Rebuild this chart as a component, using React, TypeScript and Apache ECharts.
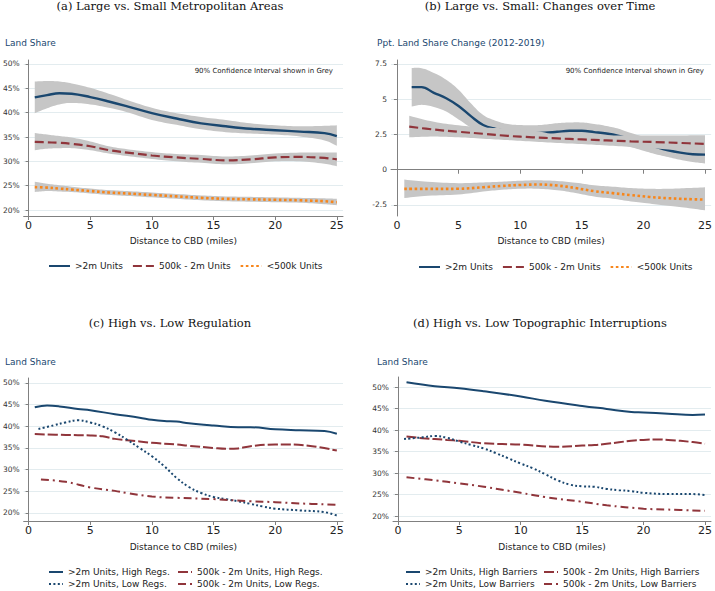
import React, { useEffect, useRef } from "react";
import * as echarts from "echarts";

// ---------- Panel (a): Large vs. Small Metropolitan Areas ----------
const A_X = [0.5, 1.5, 2.5, 3.5, 5, 6.5, 8, 10, 12, 14, 16, 18, 20, 22, 24, 25];
const A_BIG = [43.15, 43.6, 44.0, 43.9, 43.2, 42.3, 41.3, 39.9, 38.8, 37.8, 37.2, 36.7, 36.4, 36.1, 35.8, 35.2];
const A_BIG_LO = [39.9, 40.9, 41.7, 42.0, 41.7, 41.0, 40.1, 38.5, 37.5, 36.6, 36.0, 35.7, 35.5, 35.1, 34.3, 33.2];
const A_BIG_HI = [46.4, 46.5, 46.4, 46.0, 45.1, 43.9, 42.6, 41.0, 39.9, 39.1, 38.5, 37.8, 37.4, 37.2, 37.3, 37.4];
const A_MID = [34.0, 33.9, 33.8, 33.6, 33.1, 32.3, 31.8, 31.2, 30.8, 30.5, 30.2, 30.4, 30.8, 30.9, 30.7, 30.4];
const A_MID_LO = [32.3, 32.6, 32.7, 32.7, 32.3, 31.6, 31.1, 30.5, 30.0, 29.7, 29.4, 29.6, 30.0, 30.0, 29.5, 29.0];
const A_MID_HI = [35.8, 35.5, 35.2, 34.9, 34.1, 33.1, 32.5, 31.9, 31.5, 31.3, 31.0, 31.2, 31.6, 31.8, 31.8, 31.8];
const A_SMALL = [24.7, 24.6, 24.4, 24.2, 23.9, 23.6, 23.4, 23.1, 22.8, 22.5, 22.3, 22.2, 22.1, 22.0, 21.8, 21.6];
const A_SMALL_LO = [23.7, 23.9, 23.8, 23.7, 23.4, 23.1, 22.9, 22.6, 22.3, 22.0, 21.8, 21.7, 21.6, 21.5, 21.2, 21.0];
const A_SMALL_HI = [25.8, 25.4, 25.1, 24.8, 24.4, 24.1, 23.9, 23.6, 23.3, 23.0, 22.8, 22.7, 22.6, 22.5, 22.4, 22.3];

// ---------- Panel (b): Changes over Time ----------
const B_BIG_X = [1.2, 2, 3, 4, 5, 6, 7, 8, 9, 10, 11, 12, 13, 14, 15, 16, 17, 18, 19, 20, 21, 22, 23, 24, 25];
const B_BIG = [5.86, 5.86, 5.45, 5.07, 4.52, 3.8, 3.17, 2.9, 2.75, 2.65, 2.6, 2.62, 2.69, 2.76, 2.76, 2.67, 2.57, 2.4, 2.15, 1.88, 1.62, 1.38, 1.21, 1.1, 1.07];
const B_BIG_LO = [4.48, 4.6, 4.45, 4.12, 3.57, 3.0, 2.6, 2.4, 2.3, 2.25, 2.2, 2.2, 2.2, 2.2, 2.2, 2.1, 2.0, 1.85, 1.6, 1.35, 1.1, 0.9, 0.7, 0.55, 0.45];
const B_BIG_HI = [7.22, 7.2, 6.86, 6.38, 5.67, 4.71, 3.88, 3.48, 3.24, 3.17, 3.15, 3.2, 3.3, 3.35, 3.35, 3.25, 3.1, 2.9, 2.6, 2.35, 2.15, 1.95, 1.8, 1.75, 1.75];
const B_MID_X = [1, 3, 5, 7, 9, 11, 13, 15, 17, 19, 21, 23, 25];
const B_MID = [3.05, 2.85, 2.69, 2.55, 2.4, 2.3, 2.22, 2.15, 2.08, 2.01, 1.96, 1.9, 1.83];
const B_MID_LO = [2.3, 2.35, 2.3, 2.2, 2.1, 2.0, 1.9, 1.82, 1.72, 1.62, 1.5, 1.38, 1.25];
const B_MID_HI = [3.82, 3.4, 3.15, 3.0, 2.92, 2.78, 2.5, 2.45, 2.43, 2.42, 2.42, 2.43, 2.45];
const B_SMALL_X = [0.6, 2.5, 5, 7, 8.5, 10, 11.5, 13, 14.5, 16, 17.5, 19, 20.5, 22, 23.5, 25];
const B_SMALL = [-1.36, -1.36, -1.35, -1.24, -1.15, -1.08, -1.05, -1.12, -1.3, -1.52, -1.66, -1.8, -1.93, -2.02, -2.08, -2.12];
const B_SMALL_LO = [-2.0, -1.85, -1.75, -1.55, -1.42, -1.35, -1.35, -1.45, -1.65, -1.9, -2.05, -2.25, -2.4, -2.55, -2.7, -2.88];
const B_SMALL_HI = [-0.7, -0.85, -0.95, -0.9, -0.85, -0.78, -0.75, -0.8, -0.92, -1.1, -1.2, -1.3, -1.35, -1.35, -1.3, -1.25];

// ---------- Panel (c): High vs. Low Regulation ----------
const C_BIG_HIGH_X = [0.5, 1.5, 2.5, 4, 5, 7, 9, 10, 11, 12, 13, 15, 17, 18, 20, 22, 24, 25];
const C_BIG_HIGH = [44.4, 44.8, 44.6, 44.0, 43.7, 42.8, 42.0, 41.5, 41.2, 41.1, 40.7, 40.2, 39.8, 39.8, 39.3, 39.1, 38.9, 38.3];
const C_BIG_LOW_X = [0.8, 2, 3, 4, 5, 6, 7, 8, 9, 10, 11, 12, 13, 14, 15, 16, 17, 18, 19, 20, 22, 24, 25];
const C_BIG_LOW = [39.4, 40.2, 40.9, 41.4, 40.9, 40.0, 38.6, 36.9, 35.0, 33.1, 30.8, 28.1, 26.0, 24.6, 23.7, 23.2, 22.7, 22.1, 21.5, 21.0, 20.6, 20.2, 19.4];
const C_MID_HIGH_X = [0.5, 3, 5, 6, 7, 9, 10, 12, 13, 15, 16, 17, 18, 20, 21, 23, 25];
const C_MID_HIGH = [38.2, 38.0, 37.9, 37.7, 37.1, 36.5, 36.2, 35.8, 35.5, 35.0, 34.8, 34.9, 35.4, 35.8, 35.8, 35.4, 34.4];
const C_MID_LOW_X = [1, 3, 5, 7, 8, 10, 12, 15, 18, 20, 22, 25];
const C_MID_LOW = [27.7, 27.2, 25.9, 25.1, 24.6, 23.8, 23.5, 23.2, 22.7, 22.5, 22.2, 21.9];

// ---------- Panel (d): High vs. Low Topographic Interruptions ----------
const D_BIG_HIGH_X = [0.7, 3, 5, 7, 10, 12, 15, 17, 19, 20, 22, 24, 25];
const D_BIG_HIGH = [51.1, 50.2, 49.7, 49.0, 47.8, 46.8, 45.6, 44.9, 44.2, 44.1, 43.8, 43.5, 43.6];
const D_BIG_LOW_X = [0.5, 2, 3, 4, 5, 6, 7, 8, 9, 10, 11, 12, 13, 14, 15, 16, 17, 18, 19, 20, 22, 24, 25];
const D_BIG_LOW = [37.9, 38.3, 38.6, 38.2, 37.3, 36.5, 35.7, 34.6, 33.4, 32.2, 31.1, 29.7, 28.3, 27.3, 26.9, 26.8, 26.3, 26.0, 25.8, 25.4, 25.1, 25.1, 24.9];
const D_MID_HIGH_X = [0.7, 2, 4, 5, 7, 10, 13, 15, 16, 17, 19, 20, 21, 22, 24, 25];
const D_MID_HIGH = [38.5, 38.1, 37.7, 37.5, 36.9, 36.6, 36.1, 36.4, 36.5, 36.8, 37.5, 37.7, 37.8, 37.7, 37.2, 36.8];
const D_MID_LOW_X = [0.7, 3, 5, 7, 10, 12, 15, 17, 20, 22, 25];
const D_MID_LOW = [29.0, 28.3, 27.6, 26.8, 25.4, 24.4, 23.3, 22.5, 21.7, 21.5, 21.2];

// ---------- Ticks & labels ----------
const X_TICKS = [0, 5, 10, 15, 20, 25];
const PCT_TICKS = [20, 25, 30, 35, 40, 45, 50];
const PPT_TICKS = [-2.5, 0, 2.5, 5, 7.5];

const TITLES = [
  "(a) Large vs. Small Metropolitan Areas",
  "(b) Large vs. Small: Changes over Time",
  "(c) High vs. Low Regulation",
  "(d) High vs. Low Topographic Interruptions",
];
const Y_NAMES = ["Land Share", "Ppt. Land Share Change (2012-2019)", "Land Share", "Land Share"];
const CI_NOTE = "90% Confidence Interval shown in Grey";
const X_NAME = "Distance to CBD (miles)";

const NAVY = "#1a476f";
const MAROON = "#90353b";
const ORANGE = "#f7861c";
const CI_GREY = "#c6c6c6";
const SANS = "DejaVu Sans";
const SERIF = "DejaVu Serif";
const SMOOTH = 0.4;

const pts = (xs: number[], ys: number[]) => xs.map((x, i) => [x, ys[i]]);

// same cardinal-style smoothing as the line series, sampled in pixel space
function smoothPixels(p: number[][], smooth: number): number[][] {
  const n = p.length;
  const cps = p.map((cur, i) => {
    const prev = p[Math.max(i - 1, 0)];
    const next = p[Math.min(i + 1, n - 1)];
    const vx = next[0] - prev[0];
    const vy = next[1] - prev[1];
    const lp = Math.hypot(cur[0] - prev[0], cur[1] - prev[1]);
    const ln = Math.hypot(next[0] - cur[0], next[1] - cur[1]);
    const r = lp + ln > 0 ? ln / (lp + ln) : 0.5;
    return {
      a: [cur[0] - vx * smooth * (1 - r), cur[1] - vy * smooth * (1 - r)],
      b: [cur[0] + vx * smooth * r, cur[1] + vy * smooth * r],
    };
  });
  const out: number[][] = [p[0]];
  for (let i = 0; i < n - 1; i++) {
    const p0 = p[i], c1 = cps[i].b, c2 = cps[i + 1].a, p3 = p[i + 1];
    for (let s = 1; s <= 8; s++) {
      const t = s / 8, u = 1 - t;
      out.push([
        u * u * u * p0[0] + 3 * u * u * t * c1[0] + 3 * u * t * t * c2[0] + t * t * t * p3[0],
        u * u * u * p0[1] + 3 * u * u * t * c1[1] + 3 * u * t * t * c2[1] + t * t * t * p3[1],
      ]);
    }
  }
  return out;
}

function lineSeries(name: string, idx: number, xs: number[], ys: number[], color: string, width: number, dash: any, z = 2) {
  return {
    type: "line",
    name,
    xAxisIndex: idx,
    yAxisIndex: idx,
    data: pts(xs, ys),
    smooth: SMOOTH,
    symbol: "none",
    showSymbol: false,
    lineStyle: { color, width, type: dash, cap: "butt" },
    itemStyle: { color },
    z,
  };
}

function bandSeries(id: string, idx: number, xs: number[], lo: number[], hi: number[], z = 1) {
  const rows = xs.map((x, i) => [x, lo[i], hi[i]]);
  return {
    type: "custom",
    name: id,
    xAxisIndex: idx,
    yAxisIndex: idx,
    data: rows,
    encode: { x: 0, y: [1, 2] },
    silent: true,
    clip: true,
    z,
    renderItem: (params: any, api: any) => {
      if (params.dataIndex !== 0) return null;
      const upper = smoothPixels(rows.map((r) => api.coord([r[0], r[2]])), SMOOTH);
      const lower = smoothPixels(rows.map((r) => api.coord([r[0], r[1]])), SMOOTH).reverse();
      return {
        type: "polygon",
        shape: { points: upper.concat(lower) },
        style: { fill: CI_GREY, stroke: "none" },
      };
    },
  };
}

const GRIDS = [
  { left: 22, top: 60, width: 321, height: 156 },
  { left: 391, top: 60, width: 322, height: 156 },
  { left: 22, top: 378, width: 321, height: 143 },
  { left: 393, top: 377, width: 320, height: 144 },
];
const X_RANGES = [
  [-0.4, 25.5],
  [-0.48, 25.5],
  [-0.4, 25.5],
  [-0.4, 25.49],
];
const Y_RANGES = [
  [18.77, 50.82],
  [-3.28, 7.78],
  [18.15, 51.15],
  [18.84, 52.33],
];

export default function App() {
  const ref = useRef<HTMLDivElement>(null);
  useEffect(() => {
    if (!ref.current) return;
    const chart = echarts.init(ref.current, null, { renderer: "svg" });

    const xAxes = GRIDS.map((_, i) => ({
      type: "value",
      gridIndex: i,
      min: X_RANGES[i][0],
      max: X_RANGES[i][1],
      name: X_NAME,
      nameLocation: "middle",
      nameGap: i < 2 ? 20 : 21,
      nameTextStyle: { fontFamily: SANS, fontSize: 9, color: "#222" },
      axisLine: { show: true, lineStyle: { color: "#808080", width: 1 } },
      axisTick: { show: true, length: 4, lineStyle: { color: "#808080" }, customValues: X_TICKS },
      axisLabel: { customValues: X_TICKS, fontFamily: SANS, fontSize: 11, color: "#222", margin: 4 },
      splitLine: { show: false },
    }));

    const yAxes = GRIDS.map((_, i) => {
      const ticks = i === 1 ? PPT_TICKS : PCT_TICKS;
      return {
        type: "value",
        gridIndex: i,
        min: Y_RANGES[i][0],
        max: Y_RANGES[i][1],
        axisLine: { show: true, lineStyle: { color: "#808080", width: 1 } },
        axisTick: { show: true, length: 3, lineStyle: { color: "#808080" }, customValues: ticks },
        axisLabel: {
          customValues: ticks,
          fontFamily: SANS,
          fontSize: 7.5,
          color: "#333",
          margin: 4,
          formatter: (v: number) => (i === 1 ? String(v) : v + "%"),
        },
        splitLine: { show: true, lineStyle: { color: "#e3ecef", width: 1 } },
      };
    });

    const series: any[] = [
      // (a)
      bandSeries("ciA1", 0, A_X, A_BIG_LO, A_BIG_HI, 1),
      bandSeries("ciA2", 0, A_X, A_MID_LO, A_MID_HI, 1),
      bandSeries("ciA3", 0, A_X, A_SMALL_LO, A_SMALL_HI, 1),
      lineSeries(">2m Units", 0, A_X, A_BIG, NAVY, 2.4, "solid", 2),
      lineSeries("500k - 2m Units", 0, A_X, A_MID, MAROON, 2.2, [9, 4], 2),
      lineSeries("<500k Units", 0, A_X, A_SMALL, ORANGE, 2.6, [2.6, 2.6], 2),
      // (b) — drawn in layers so the red band covers parts of the blue line
      bandSeries("ciB1", 1, B_BIG_X, B_BIG_LO, B_BIG_HI, 1),
      lineSeries(">2m Units", 1, B_BIG_X, B_BIG, NAVY, 2.4, "solid", 2),
      bandSeries("ciB2", 1, B_MID_X, B_MID_LO, B_MID_HI, 3),
      lineSeries("500k - 2m Units", 1, B_MID_X, B_MID, MAROON, 2.2, [9, 4], 4),
      bandSeries("ciB3", 1, B_SMALL_X, B_SMALL_LO, B_SMALL_HI, 5),
      lineSeries("<500k Units", 1, B_SMALL_X, B_SMALL, ORANGE, 2.6, [2.6, 2.6], 6),
      // (c)
      lineSeries(">2m Units, High Regs.", 2, C_BIG_HIGH_X, C_BIG_HIGH, NAVY, 2, "solid"),
      lineSeries("500k - 2m Units, High Regs.", 2, C_MID_HIGH_X, C_MID_HIGH, MAROON, 2, [10, 3]),
      lineSeries(">2m Units, Low Regs.", 2, C_BIG_LOW_X, C_BIG_LOW, NAVY, 2, [2, 2.4]),
      lineSeries("500k - 2m Units, Low Regs.", 2, C_MID_LOW_X, C_MID_LOW, MAROON, 2, [8, 4, 2, 4]),
      // (d)
      lineSeries(">2m Units, High Barriers", 3, D_BIG_HIGH_X, D_BIG_HIGH, NAVY, 2, "solid"),
      lineSeries("500k - 2m Units, High Barriers", 3, D_MID_HIGH_X, D_MID_HIGH, MAROON, 2, [10, 3]),
      lineSeries(">2m Units, Low Barriers", 3, D_BIG_LOW_X, D_BIG_LOW, NAVY, 2, [2, 2.4]),
      lineSeries("500k - 2m Units, Low Barriers", 3, D_MID_LOW_X, D_MID_LOW, MAROON, 2, [8, 4, 2, 4]),
    ];

    const legendBase = {
      orient: "horizontal",
      padding: 0,
      itemHeight: 10,
      selectedMode: false,
      itemStyle: { opacity: 0, borderWidth: 0 },
      textStyle: { fontFamily: SANS, fontSize: 9, color: "#222", lineHeight: 10 },
    };
    const legends = [
      { ...legendBase, left: 48, top: 261, itemWidth: 21, itemGap: 9, data: [">2m Units", "500k - 2m Units", "<500k Units"] },
      { ...legendBase, left: 418, top: 262, itemWidth: 21, itemGap: 9, data: [">2m Units", "500k - 2m Units", "<500k Units"] },
      { ...legendBase, left: 48, top: 567, itemWidth: 14, data: [">2m Units, High Regs."] },
      { ...legendBase, left: 177, top: 567, itemWidth: 14, data: ["500k - 2m Units, High Regs."] },
      { ...legendBase, left: 48, top: 579, itemWidth: 14, data: [">2m Units, Low Regs."] },
      { ...legendBase, left: 177, top: 579, itemWidth: 14, data: ["500k - 2m Units, Low Regs."] },
      { ...legendBase, left: 405, top: 567, itemWidth: 14, data: [">2m Units, High Barriers"] },
      { ...legendBase, left: 543, top: 567, itemWidth: 14, data: ["500k - 2m Units, High Barriers"] },
      { ...legendBase, left: 405, top: 579, itemWidth: 14, data: [">2m Units, Low Barriers"] },
      { ...legendBase, left: 543, top: 579, itemWidth: 14, data: ["500k - 2m Units, Low Barriers"] },
    ];

    const txt = (text: string, x: number, y: number, size: number, family: string, fill: string, align: string) => ({
      type: "text",
      x,
      y,
      silent: true,
      style: { text, fontSize: size, fontFamily: family, fill, align, verticalAlign: "middle" },
    });

    const graphic = [
      txt(TITLES[0], 170, 6, 11.5, SERIF, "#111", "center"),
      txt(TITLES[1], 540, 6, 11.5, SERIF, "#111", "center"),
      txt(TITLES[2], 170, 323, 11.5, SERIF, "#111", "center"),
      txt(TITLES[3], 540, 323, 11.5, SERIF, "#111", "center"),
      txt(Y_NAMES[0], 5, 43, 9, SANS, NAVY, "left"),
      txt(Y_NAMES[1], 377, 43, 9, SANS, NAVY, "left"),
      txt(Y_NAMES[2], 5, 362, 9, SANS, NAVY, "left"),
      txt(Y_NAMES[3], 377, 362, 9, SANS, NAVY, "left"),
      txt(CI_NOTE, 333, 71, 7, SANS, "#222", "right"),
      txt(CI_NOTE, 704, 71, 7, SANS, "#222", "right"),
    ];

    chart.setOption({
      animation: false,
      backgroundColor: "#ffffff",
      grid: GRIDS.map((g) => ({ ...g, containLabel: false })),
      xAxis: xAxes,
      yAxis: yAxes,
      legend: legends,
      series,
      graphic,
    });
    return () => chart.dispose();
  }, []);

  return (
    <div
      ref={ref}
      style={{ position: "fixed", left: 0, top: 0, width: 715, height: 591, background: "#fff" }}
    />
  );
}
